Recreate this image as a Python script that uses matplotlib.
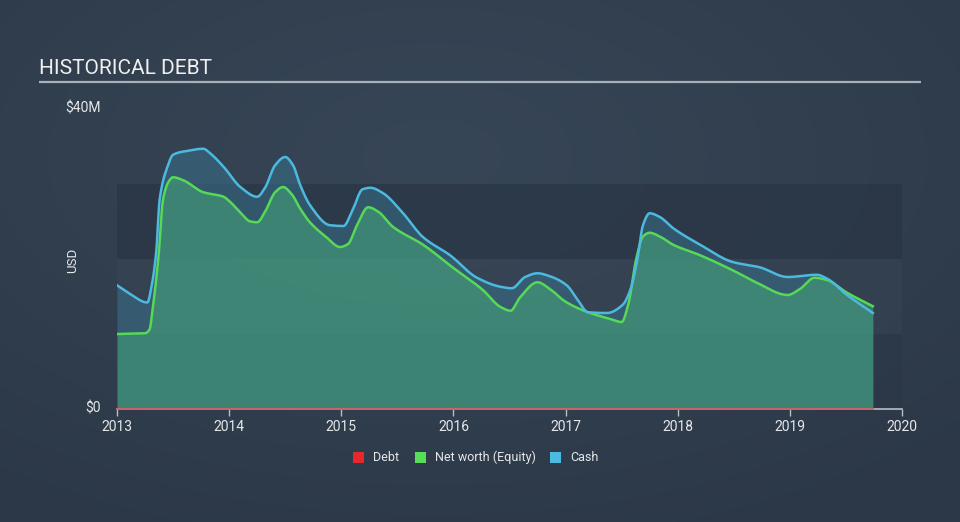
import numpy as np
import matplotlib
matplotlib.use("Agg")
import matplotlib.pyplot as plt

plt.rcParams['font.family'] = ['Roboto', 'DejaVu Sans']

title = "HISTORICAL DEBT"
y_label = "USD"
x_ticks = [2013, 2014, 2015, 2016, 2017, 2018, 2019, 2020]
y_tick_labels = ["$0", "$40M"]
legend_labels = ["Debt", "Net worth (Equity)", "Cash"]

cash_t = [2013.00, 2013.12, 2013.27, 2013.31, 2013.35, 2013.38, 2013.45, 2013.50, 2013.62,
          2013.77, 2013.83, 2013.95, 2014.10, 2014.25, 2014.32, 2014.41, 2014.50, 2014.57,
          2014.63, 2014.72, 2014.90, 2015.02, 2015.10, 2015.19, 2015.26, 2015.37, 2015.54,
          2015.73, 2015.97, 2016.21, 2016.42, 2016.52, 2016.64, 2016.75, 2016.86, 2017.01,
          2017.11, 2017.20, 2017.37, 2017.51, 2017.58, 2017.64, 2017.69, 2017.75, 2017.84,
          2017.96, 2018.20, 2018.49, 2018.73, 2018.98, 2019.24, 2019.33, 2019.51, 2019.74]
cash_v = [16.5, 15.3, 14.2, 16.5, 21.0, 27.9, 32.3, 33.9, 34.4,
          34.7, 34.1, 32.3, 29.6, 28.3, 29.5, 32.5, 33.6, 32.5,
          30.0, 27.2, 24.5, 24.4, 26.5, 29.3, 29.5, 28.8, 26.3,
          22.9, 20.5, 17.5, 16.3, 16.1, 17.6, 18.1, 17.7, 16.5,
          14.5, 12.9, 12.8, 13.9, 16.0, 19.9, 24.5, 26.1, 25.6,
          24.1, 21.9, 19.6, 18.9, 17.6, 17.9, 17.4, 15.2, 12.8]

equity_t = [2013.00, 2013.25, 2013.29, 2013.32, 2013.37, 2013.41, 2013.46, 2013.50, 2013.59,
            2013.77, 2013.95, 2014.01, 2014.10, 2014.19, 2014.25, 2014.32, 2014.41, 2014.48,
            2014.56, 2014.63, 2014.72, 2014.86, 2014.99, 2015.06, 2015.14, 2015.24, 2015.33,
            2015.46, 2015.73, 2016.00, 2016.26, 2016.42, 2016.51, 2016.59, 2016.75, 2016.86,
            2017.00, 2017.20, 2017.40, 2017.50, 2017.56, 2017.63, 2017.69, 2017.75, 2017.84,
            2017.96, 2018.20, 2018.49, 2018.71, 2018.98, 2019.09, 2019.22, 2019.33, 2019.51,
            2019.74]
equity_v = [10.0, 10.1, 10.6, 13.6, 20.3, 27.9, 30.3, 30.9, 30.5,
            28.9, 28.3, 27.6, 26.2, 25.0, 24.9, 26.3, 28.9, 29.6,
            28.6, 26.8, 24.9, 23.0, 21.6, 22.0, 24.5, 26.9, 26.3,
            24.3, 21.9, 18.8, 15.9, 13.6, 13.1, 14.8, 16.9, 16.0,
            14.3, 12.9, 12.0, 11.6, 14.0, 20.0, 23.0, 23.5, 23.0,
            21.9, 20.5, 18.5, 16.8, 15.2, 16.0, 17.5, 17.2, 15.5,
            13.7]

debt_t = [2013.00, 2019.74]
debt_v = [0.0, 0.0]


def smooth(t, v, n=12):
    """Monotone cubic (PCHIP) rendering of a polyline, for a smooth drawn curve."""
    t = np.asarray(t, float)
    v = np.asarray(v, float)
    h = np.diff(t)
    delta = np.diff(v) / h
    m = np.zeros_like(v)
    for k in range(1, len(v) - 1):
        if delta[k - 1] * delta[k] > 0:
            w1 = 2 * h[k] + h[k - 1]
            w2 = h[k] + 2 * h[k - 1]
            m[k] = (w1 + w2) / (w1 / delta[k - 1] + w2 / delta[k])
    m[0] = delta[0]
    m[-1] = delta[-1]
    xs, ys = [], []
    for k in range(len(v) - 1):
        s = np.linspace(0, 1, n, endpoint=False)
        h00 = 2 * s**3 - 3 * s**2 + 1
        h10 = s**3 - 2 * s**2 + s
        h01 = -2 * s**3 + 3 * s**2
        h11 = s**3 - s**2
        xs.append(t[k] + s * h[k])
        ys.append(h00 * v[k] + h10 * h[k] * m[k] + h01 * v[k + 1] + h11 * h[k] * m[k + 1])
    xs.append([t[-1]])
    ys.append([v[-1]])
    return np.concatenate(xs), np.concatenate(ys)


W, H = 960, 522
fig = plt.figure(figsize=(W / 100, H / 100), dpi=100)

# background gradient
bg = fig.add_axes([0, 0, 1, 1])
yy, xx = np.mgrid[0:H, 0:W]
d = np.sqrt(((xx - W * 0.45) / W) ** 2 + ((yy - H * 0.3) / H) ** 2)
d = np.clip(d / 0.8, 0, 1)
c_in = np.array([0x37, 0x46, 0x57]) / 255
c_out = np.array([0x2c, 0x38, 0x47]) / 255
img = c_in[None, None, :] * (1 - d[..., None]) + c_out[None, None, :] * d[..., None]
bg.imshow(img, aspect='auto', extent=[0, W, H, 0])
bg.set_xlim(0, W)
bg.set_ylim(H, 0)
bg.axis('off')

# title & rule
bg.text(39, 69, title, color='#f0f0f0', fontsize=15, va='center', ha='left')
bg.plot([39, 921], [82, 82], color='#a9b0b8', lw=1.6, solid_capstyle='butt')

x0, x1 = 117, 902
y0, y1 = 409, 109
ax = fig.add_axes([x0 / W, 1 - y0 / H, (x1 - x0) / W, (y0 - y1) / H])
ax.patch.set_alpha(0)
ax.set_xlim(2013, 2020)
ax.set_ylim(0, 40)

ax.axhspan(0, 10, color='#2c3847', alpha=0.55, lw=0, zorder=0)
ax.axhspan(10, 20, color='#3a4858', alpha=0.35, lw=0, zorder=0)
ax.axhspan(20, 30, color='#2a3645', alpha=0.75, lw=0, zorder=0)

cash_col = '#4cb9df'
eq_col = '#55d957'
cx, cy = smooth(cash_t, cash_v)
ex, ey = smooth(equity_t, equity_v)
ax.fill_between(cx, cy, 0, color='#3a7b97', alpha=0.45, lw=0, zorder=1)
ax.fill_between(ex, ey, 0, color='#47a97a', alpha=0.55, lw=0, zorder=2)
ax.plot(cx, cy, color=cash_col, lw=1.8, zorder=4, solid_joinstyle='round')
ax.plot(ex, ey, color=eq_col, lw=1.8, zorder=3, solid_joinstyle='round')
ax.plot(debt_t, debt_v, color='#d0555a', lw=1.2, zorder=5, clip_on=False)

for s in ['top', 'right', 'left']:
    ax.spines[s].set_visible(False)
ax.spines['bottom'].set_color('#b8bec6')
ax.spines['bottom'].set_linewidth(1.2)
ax.set_xticks(x_ticks)
ax.set_xticklabels([str(t) for t in x_ticks])
ax.tick_params(axis='x', colors='#b8bec6', length=5, width=1, labelcolor='#e6e8ea',
               labelsize=10, pad=3)
ax.set_yticks([])

bg.text(101, 409, y_tick_labels[0], color='#e6e8ea', fontsize=10, ha='right', va='center')
bg.text(101, 109, y_tick_labels[1], color='#e6e8ea', fontsize=10, ha='right', va='center')
bg.text(73, 260, y_label, color='#e6e8ea', fontsize=9.5, ha='center', va='center', rotation=90)

# legend
leg = [(353, '#e8272b', legend_labels[0]), (415, '#58de56', legend_labels[1]),
       (550, '#4bbbe0', legend_labels[2])]
for lx, col, lab in leg:
    bg.add_patch(plt.Rectangle((lx, 452), 11, 11, color=col, lw=0))
    bg.text(lx + 20, 457.5, lab, color='#e6e8ea', fontsize=9, ha='left', va='center')

fig.savefig('out.png', dpi=100)
